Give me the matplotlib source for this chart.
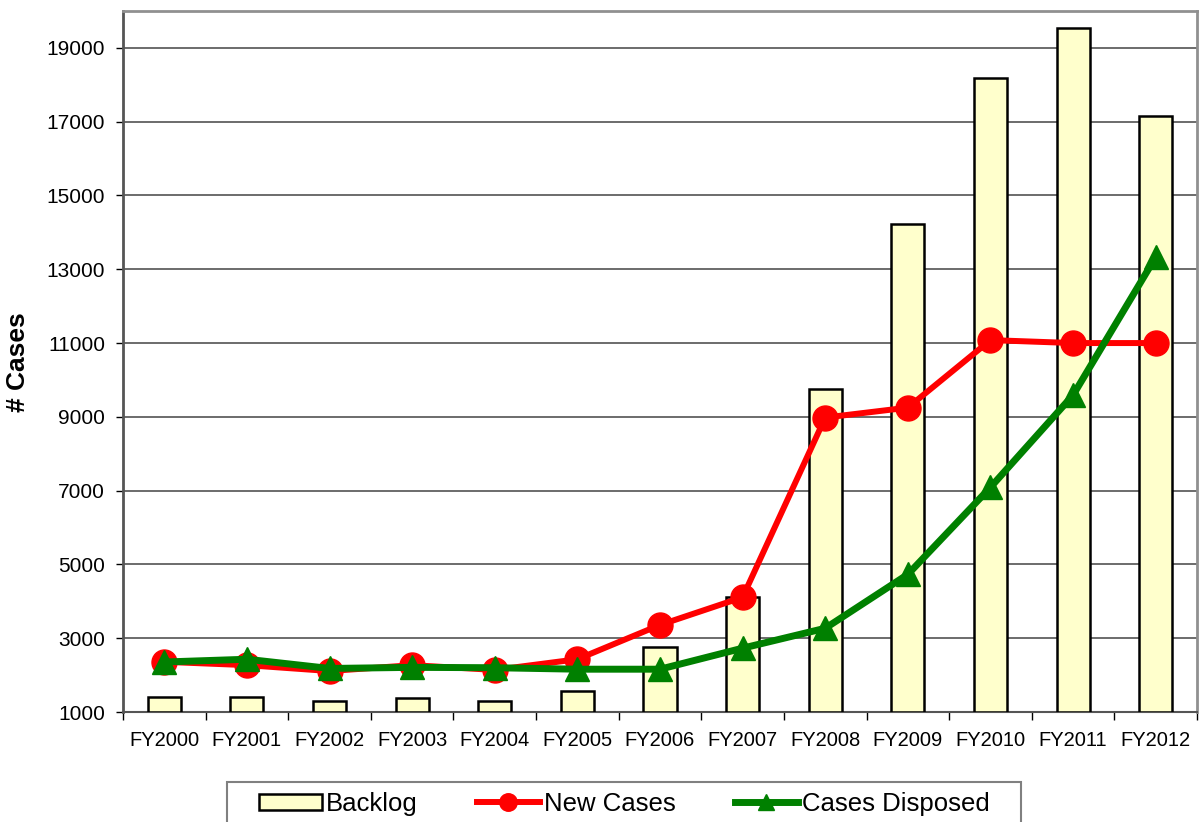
import matplotlib
matplotlib.use("Agg")
import matplotlib.pyplot as plt
import numpy as np
from matplotlib.patches import Rectangle
from matplotlib.ticker import FixedLocator, NullFormatter

plt.rcParams['font.family'] = ['Liberation Sans', 'DejaVu Sans']

years = ["FY2000", "FY2001", "FY2002", "FY2003", "FY2004", "FY2005", "FY2006",
         "FY2007", "FY2008", "FY2009", "FY2010", "FY2011", "FY2012"]
backlog = [1400, 1400, 1300, 1370, 1290, 1580, 2750, 4110, 9750, 14220, 18180, 19540, 17165]
new_cases = [2360, 2270, 2110, 2270, 2140, 2430, 3360, 4110, 8980, 9250, 11080, 11000, 11000]
cases_disposed = [2355, 2430, 2180, 2210, 2200, 2160, 2160, 2730, 3270, 4730, 7090, 9590, 13330]
y_ticks = [1000, 3000, 5000, 7000, 9000, 11000, 13000, 15000, 17000, 19000]

W, H = 1203, 822
fig = plt.figure(figsize=(W / 100, H / 100), dpi=100)
ax = fig.add_axes([123 / W, 1 - 712 / H, (1197 - 123) / W, (712 - 11) / H])

x = np.arange(len(years))
bars = ax.bar(x, [b - 1000 for b in backlog], bottom=1000, width=0.4,
              color="#FFFFCC", edgecolor="black", linewidth=1.8, zorder=3, label="Backlog")
l_new, = ax.plot(x, new_cases, color="#FF0000", linewidth=4.3, marker="o", markersize=18,
                 zorder=4, label="New Cases")
l_disp, = ax.plot(x, cases_disposed, color="#008000", linewidth=5, marker="^", markersize=17,
                  zorder=5, label="Cases Disposed")

ax.set_xlim(-0.5, len(years) - 0.5)
ax.set_ylim(1000, 20000)
ax.set_yticks(y_ticks)
ax.yaxis.grid(True, color="#444444", linewidth=1.1, zorder=0)
ax.set_axisbelow(True)
ax.tick_params(axis="y", direction="out", length=5, width=1, pad=8, labelsize=15)

ax.set_xticks(x)
ax.set_xticklabels(years)
ax.tick_params(axis="x", which="major", length=0, pad=14, labelsize=14.5)
ax.xaxis.set_minor_locator(FixedLocator(np.arange(-0.5, len(years), 1.0)))
ax.xaxis.set_minor_formatter(NullFormatter())
ax.tick_params(axis="x", which="minor", direction="out", length=6, width=1)

ax.spines["left"].set_color("#555555")
ax.spines["left"].set_linewidth(2)
ax.spines["bottom"].set_color("#555555")
ax.spines["bottom"].set_linewidth(1.5)
for s in ("top", "right"):
    ax.spines[s].set_color("#909090")
    ax.spines[s].set_linewidth(2)

fig.text(18 / W, 1 - 362 / H, "# Cases", rotation=90, ha="center", va="center",
         fontsize=19, fontweight="bold")

# legend box runs past the bottom edge of the figure
fig.patches.append(Rectangle((227 / W, 1 - 840 / H), (1021 - 227) / W, (840 - 782) / H,
                             transform=fig.transFigure, facecolor="white",
                             edgecolor="#808080", linewidth=1.5, zorder=1))
leg = fig.legend([bars, l_new, l_disp], ["Backlog", "New Cases", "Cases Disposed"],
                 loc="upper left", bbox_to_anchor=(259 / W, 1 - 792 / H), ncol=3,
                 fontsize=18.5, frameon=False, markerscale=0.7,
                 handlelength=2.45, handleheight=0.62, handletextpad=0.16,
                 columnspacing=2.3, borderpad=0, borderaxespad=0)
leg.set_zorder(2)

fig.savefig("out.png", dpi=100)
